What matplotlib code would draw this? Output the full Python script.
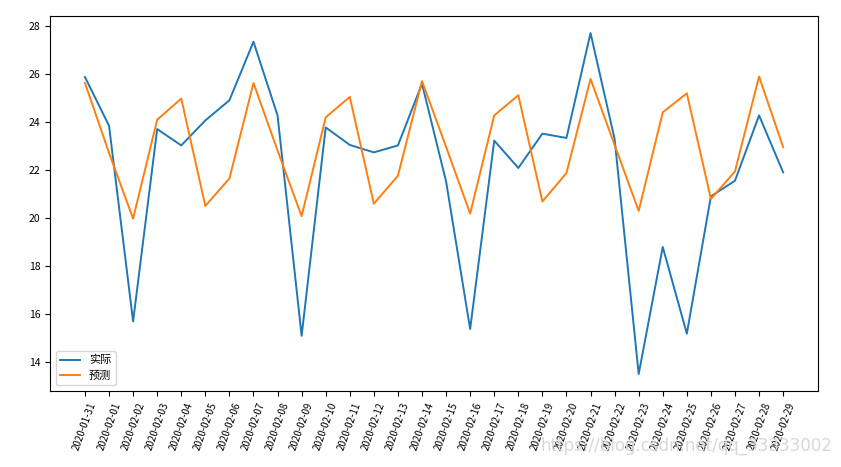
import numpy as np
import pandas as pd
import matplotlib
matplotlib.use('Agg')
import matplotlib.pyplot as plt

plt.rcParams['font.family'] = ['Noto Sans CJK SC', 'DejaVu Sans']
plt.rcParams['axes.unicode_minus'] = False

dates = pd.date_range('2020-01-31', '2020-02-29').strftime('%Y-%m-%d').tolist()

actual = [25.86, 23.83, 15.68, 23.69, 23.01, 24.05, 24.89, 27.33, 24.26, 15.08,
          23.76, 23.03, 22.72, 23.01, 25.58, 21.51, 15.36, 23.21, 22.07, 23.50,
          23.32, 27.69, 23.28, 13.49, 18.78, 15.17, 20.89, 21.54, 24.26, 21.89]
predicted = [25.61, 22.70, 19.96, 24.08, 24.96, 20.49, 21.63, 25.61, 22.80, 20.06,
             24.18, 25.03, 20.58, 21.75, 25.69, 22.95, 20.17, 24.26, 25.10, 20.67,
             21.86, 25.78, 23.03, 20.28, 24.39, 25.18, 20.78, 21.93, 25.88, 22.94]

fig = plt.figure(figsize=(8.41, 4.67), dpi=100)
ax = fig.add_axes([0.0595, 0.1627, 0.9132, 0.803])

ax.plot(dates, actual, label='实际', lw=1.4)
ax.plot(dates, predicted, label='预测', lw=1.4)
ax.tick_params(axis='y', labelsize=7.5)
ax.tick_params(axis='x', labelsize=7)
plt.xticks(rotation=70)
ax.legend(loc='lower left', fontsize=8, handlelength=1.8)

fig.text(0.99, 0.025, 'https://blog.csdn.net/qq_33333002', fontsize=12,
         color='#d8d8d8', ha='right', va='bottom', family='DejaVu Sans')

fig.savefig('out.png', dpi=100)
